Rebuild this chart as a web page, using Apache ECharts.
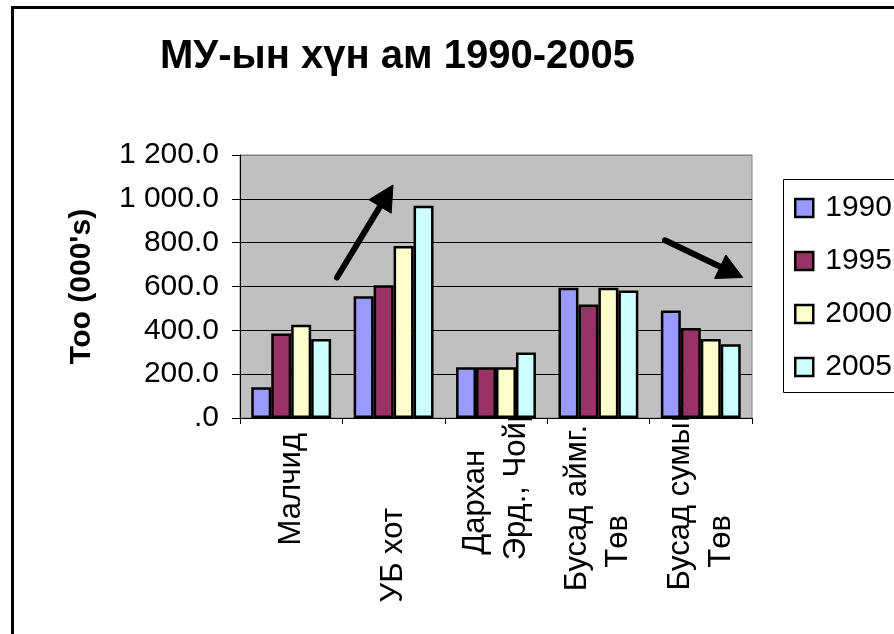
<!DOCTYPE html>
<html><head><meta charset="utf-8">
<script src="https://cdn.jsdelivr.net/npm/echarts@6/dist/echarts.min.js"></script>
<style>html,body{margin:0;padding:0;background:#fff}#c{width:894px;height:634px}</style>
</head><body><div id="c"></div>
<script>
// ---- data ----
const categories = ['Малчид', 'УБ хот', 'Дархан\nЭрд., Чойр', 'Бусад аймг.\nТөв', 'Бусад сумын\nТөв'];
const years = ['1990', '1995', '2000', '2005'];
const v1990 = [140, 556, 232, 594, 490];
const v1995 = [385, 606, 232, 518, 411];
const v2000 = [426, 785, 232, 594, 360];
const v2005 = [360, 968, 299, 582, 337];
const yTickLabels = ['.0', '200.0', '400.0', '600.0', '800.0', '1 000.0', '1 200.0'];
const titleText = 'МУ-ын хүн ам 1990-2005';
const yName = "Тоо (000's)";
// annotation arrows in data space: [category position, value]
const arrowUp = { from: [0.447, 641], to: [0.994, 1063] };
const arrowDown = { from: [3.65, 811], to: [4.41, 641] };

// ---- layout / style ----
const FONT = '"Liberation Sans", Arial, sans-serif';
const colors = ['#9999FF', '#993366', '#FFFFCC', '#CCFFFF'];
const seriesValues = [v1990, v1995, v2000, v2005];
// screen top of each label line (end of rotated text)
const labelTops = [[433], [508], [450, 405], [425, 515], [405, 515]];
const ANCHOR = 402;
const rich = {};
labelTops.forEach((tops, ci) => {
  tops.forEach((t, li) => {
    rich['c' + ci + 'l' + li] = {
      align: 'right', padding: [0, t - ANCHOR, 0, 0],
      fontSize: 31, lineHeight: 41, fontFamily: FONT, color: '#000'
    };
  });
});

const chart = echarts.init(document.getElementById('c'), null, { renderer: 'canvas' });
const option = {
  animation: false,
  backgroundColor: '#fff',
  color: colors,
  title: {
    text: titleText, left: 160, top: 37, padding: 0,
    textStyle: { fontFamily: FONT, fontSize: 40, fontWeight: 'bold', color: '#000', lineHeight: 40 }
  },
  legend: {
    orient: 'vertical', left: 794, top: 193, padding: 0,
    itemWidth: 18, itemHeight: 18, itemGap: 23, icon: 'rect',
    selectedMode: false,
    data: years,
    itemStyle: { borderColor: '#000', borderWidth: 2.5 },
    textStyle: { fontFamily: FONT, fontSize: 30, color: '#000', lineHeight: 30, padding: [0, 0, 0, 7] }
  },
  grid: {
    left: 240, right: 142, top: 155, bottom: 216,
    show: true, backgroundColor: '#C0C0C0', borderColor: '#808080', borderWidth: 1,
    containLabel: false, outerBoundsMode: 'none'
  },
  xAxis: {
    type: 'category', data: categories,
    axisLine: { show: true, lineStyle: { color: '#000', width: 1 } },
    axisTick: { show: true, length: 6, lineStyle: { color: '#000' } },
    axisLabel: {
      interval: 0, rotate: 90, margin: ANCHOR - 418,
      fontFamily: FONT, fontSize: 31, color: '#000',
      formatter: (val, idx) => val.split('\n').map((line, li) => '{c' + idx + 'l' + li + '|' + line + '}').join('\n'),
      rich: rich
    },
    splitLine: { show: false }
  },
  yAxis: {
    type: 'value', min: 0, max: 1200, interval: 200,
    name: yName, nameLocation: 'middle', nameRotate: 90, nameGap: 143, nameMoveOverlap: false,
    nameTextStyle: { fontFamily: FONT, fontSize: 30, fontWeight: 'bold', color: '#000' },
    axisLine: { show: true, lineStyle: { color: '#000', width: 1 } },
    axisTick: { show: true, length: 8, lineStyle: { color: '#000' } },
    axisLabel: {
      margin: 21, fontFamily: FONT, fontSize: 30, color: '#000',
      formatter: (v) => yTickLabels[Math.round(v / 200)]
    },
    splitLine: { show: true, lineStyle: { color: ['#000', '#000', '#000', '#000', '#000', '#000', '#808080'], width: 1 } }
  },
  series: years.map((y, i) => ({
    name: y, type: 'bar', data: seriesValues[i],
    barGap: '0%', barCategoryGap: '22%',
    itemStyle: { color: colors[i], borderColor: '#000', borderWidth: 2.5 }
  }))
};
chart.setOption(option);

function toPx(pt) {
  const p0 = chart.convertToPixel({ gridIndex: 0 }, [0, pt[1]]);
  const p1 = chart.convertToPixel({ gridIndex: 0 }, [1, pt[1]]);
  return [p0[0] + (p1[0] - p0[0]) * pt[0], p0[1]];
}
function arrowGraphics(a) {
  const s = toPx(a.from), t = toPx(a.to);
  const dx = t[0] - s[0], dy = t[1] - s[1];
  const L = Math.hypot(dx, dy);
  const ux = dx / L, uy = dy / L;
  const headLen = 25, halfW = 13;
  const bx = t[0] - ux * headLen, by = t[1] - uy * headLen;
  return [
    { type: 'line', shape: { x1: s[0], y1: s[1], x2: bx + ux * 3, y2: by + uy * 3 },
      style: { stroke: '#000', lineWidth: 6, lineCap: 'round' }, z: 100 },
    { type: 'polygon', shape: { points: [[t[0], t[1]], [bx - uy * halfW, by + ux * halfW], [bx + uy * halfW, by - ux * halfW]] },
      style: { fill: '#000', stroke: '#000', lineWidth: 1, lineJoin: 'round' }, z: 100 }
  ];
}
chart.setOption({
  graphic: [
    { type: 'rect', shape: { x: 12.5, y: 7.5, width: 1000, height: 1000 }, style: { fill: 'none', stroke: '#000', lineWidth: 3 }, z: 100 },
    { type: 'rect', shape: { x: 783.5, y: 179.5, width: 300, height: 213 }, style: { fill: 'none', stroke: '#000', lineWidth: 1 }, z: 100 }
  ].concat(arrowGraphics(arrowUp), arrowGraphics(arrowDown))
});
</script>
</body></html>
